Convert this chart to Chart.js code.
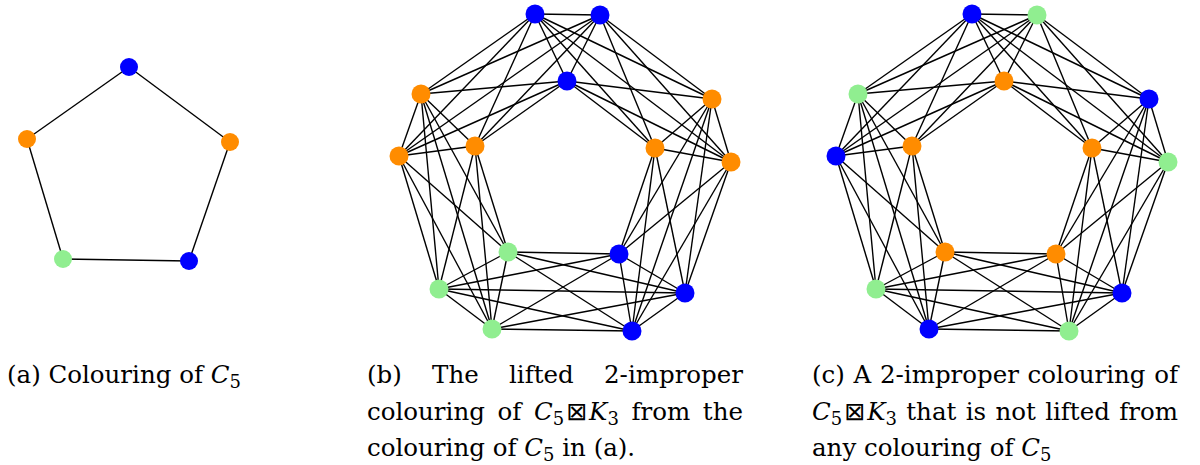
<!DOCTYPE html>
<html>
<head>
<meta charset="utf-8">
<script src="https://cdn.jsdelivr.net/npm/chart.js@4.4.1/dist/chart.umd.min.js"></script>
<style>
    html, body { margin: 0; padding: 0; background: #fff; }
    #wrap { position: relative; width: 1200px; height: 465px; overflow: hidden; }
    #graph { position: absolute; left: 0; top: 0; }
    .cap { position: absolute; font-family: "DejaVu Serif", serif; font-size: 24.5px; color: #000; }
    .cap .ln { height: 36.5px; line-height: 36.5px; white-space: nowrap; }
    .cap .just { text-align: justify; text-align-last: justify; white-space: normal; }
    .cap i { font-style: italic; }
    .cap sub { font-size: 18px; vertical-align: -5px; line-height: 0; }
    .box { font-family: "DejaVu Sans", sans-serif; font-size: 25px; margin: 0 2px; }
</style>
</head>
<body>
<div id="wrap">
    <canvas id="graph" width="1200" height="345"></canvas>

    <div class="cap" style="left:7px; top:357px;">
        <div class="ln">(a) Colouring of <i>C</i><sub>5</sub></div>
    </div>

    <div class="cap" style="left:367px; top:357px; width:376px;">
        <div class="ln just">(b) The lifted 2-improper</div>
        <div class="ln just">colouring of <i>C</i><sub>5</sub><span class="box">⊠</span><i>K</i><sub>3</sub> from the</div>
        <div class="ln">colouring of <i>C</i><sub>5</sub> in (a).</div>
    </div>

    <div class="cap" style="left:812px; top:357px; width:366px;">
        <div class="ln just">(c) A 2-improper colouring of</div>
        <div class="ln just"><i>C</i><sub>5</sub><span class="box">⊠</span><i>K</i><sub>3</sub> that is not lifted from</div>
        <div class="ln">any colouring of <i>C</i><sub>5</sub></div>
    </div>
</div>

<script>
// ---- data ----
const BLUE = '#0000ff', ORANGE = '#ff8c00', GREEN = '#90ee90';

// (a) the 5-cycle
const c5X = [129, 27, 230, 63, 189];
const c5Y = [67, 139, 142, 259, 261];
const c5Colors = [BLUE, ORANGE, ORANGE, GREEN, BLUE];
const c5Edges = [[0, 1], [1, 3], [3, 4], [4, 2], [2, 0]];

// (b) and (c) share the same layout of C5 x K3, only shifted
const layoutX = [535, 600, 567, 421, 399, 475, 712, 655, 731, 508, 439, 492, 619, 685, 632];
const layoutY = [14, 15, 81, 94, 156, 146, 99, 148, 162, 252, 289, 329, 254, 293, 331];
const panelOffsets = [0, 437];

// groups of 3 vertices (one per vertex of C5): top, left, right, bottom-left, bottom-right
const groups = [[0, 1, 2], [3, 4, 5], [6, 7, 8], [9, 10, 11], [12, 13, 14]];
const groupCycle = [0, 1, 3, 4, 2];

const coloursB = [BLUE, BLUE, BLUE, ORANGE, ORANGE, ORANGE, ORANGE, ORANGE, ORANGE,
    GREEN, GREEN, GREEN, BLUE, BLUE, BLUE];
const coloursC = [BLUE, GREEN, ORANGE, GREEN, BLUE, ORANGE, BLUE, ORANGE, GREEN,
    ORANGE, GREEN, BLUE, ORANGE, BLUE, GREEN];

// ---- build edges of the strong product C5 x K3 ----
function strongProductEdges() {
    const edges = [];
    groups.forEach(g => {
        for (let i = 0; i < g.length; i++)
            for (let j = i + 1; j < g.length; j++) edges.push([g[i], g[j]]);
    });
    for (let k = 0; k < groupCycle.length; k++) {
        const g1 = groups[groupCycle[k]];
        const g2 = groups[groupCycle[(k + 1) % groupCycle.length]];
        g1.forEach(a => g2.forEach(b => edges.push([a, b])));
    }
    return edges;
}

const datasets = [];

function addGraph(xs, ys, colours, edges, radius) {
    datasets.push({
        data: xs.map((x, i) => ({ x, y: ys[i] })),
        showLine: false,
        pointRadius: radius,
        pointHoverRadius: radius,
        pointBackgroundColor: colours,
        pointBorderWidth: 0,
        order: 0
    });
    edges.forEach(([a, b]) => {
        datasets.push({
            data: [{ x: xs[a], y: ys[a] }, { x: xs[b], y: ys[b] }],
            showLine: true,
            borderColor: '#000',
            borderWidth: 1.4,
            pointRadius: 0,
            order: 1
        });
    });
}

addGraph(c5X, c5Y, c5Colors, c5Edges, 9);

const productEdges = strongProductEdges();
[coloursB, coloursC].forEach((colours, p) => {
    const xs = layoutX.map(x => x + panelOffsets[p]);
    addGraph(xs, layoutY, colours, productEdges, 9.5);
});

new Chart(document.getElementById('graph'), {
    type: 'scatter',
    data: { datasets },
    options: {
        responsive: false,
        animation: false,
        events: [],
        clip: false,
        layout: { padding: 0, autoPadding: false },
        plugins: { legend: { display: false }, tooltip: { enabled: false } },
        scales: {
            x: { type: 'linear', min: 0, max: 1200, display: false },
            y: { type: 'linear', min: 0, max: 345, reverse: true, display: false }
        }
    }
});
</script>
</body>
</html>
